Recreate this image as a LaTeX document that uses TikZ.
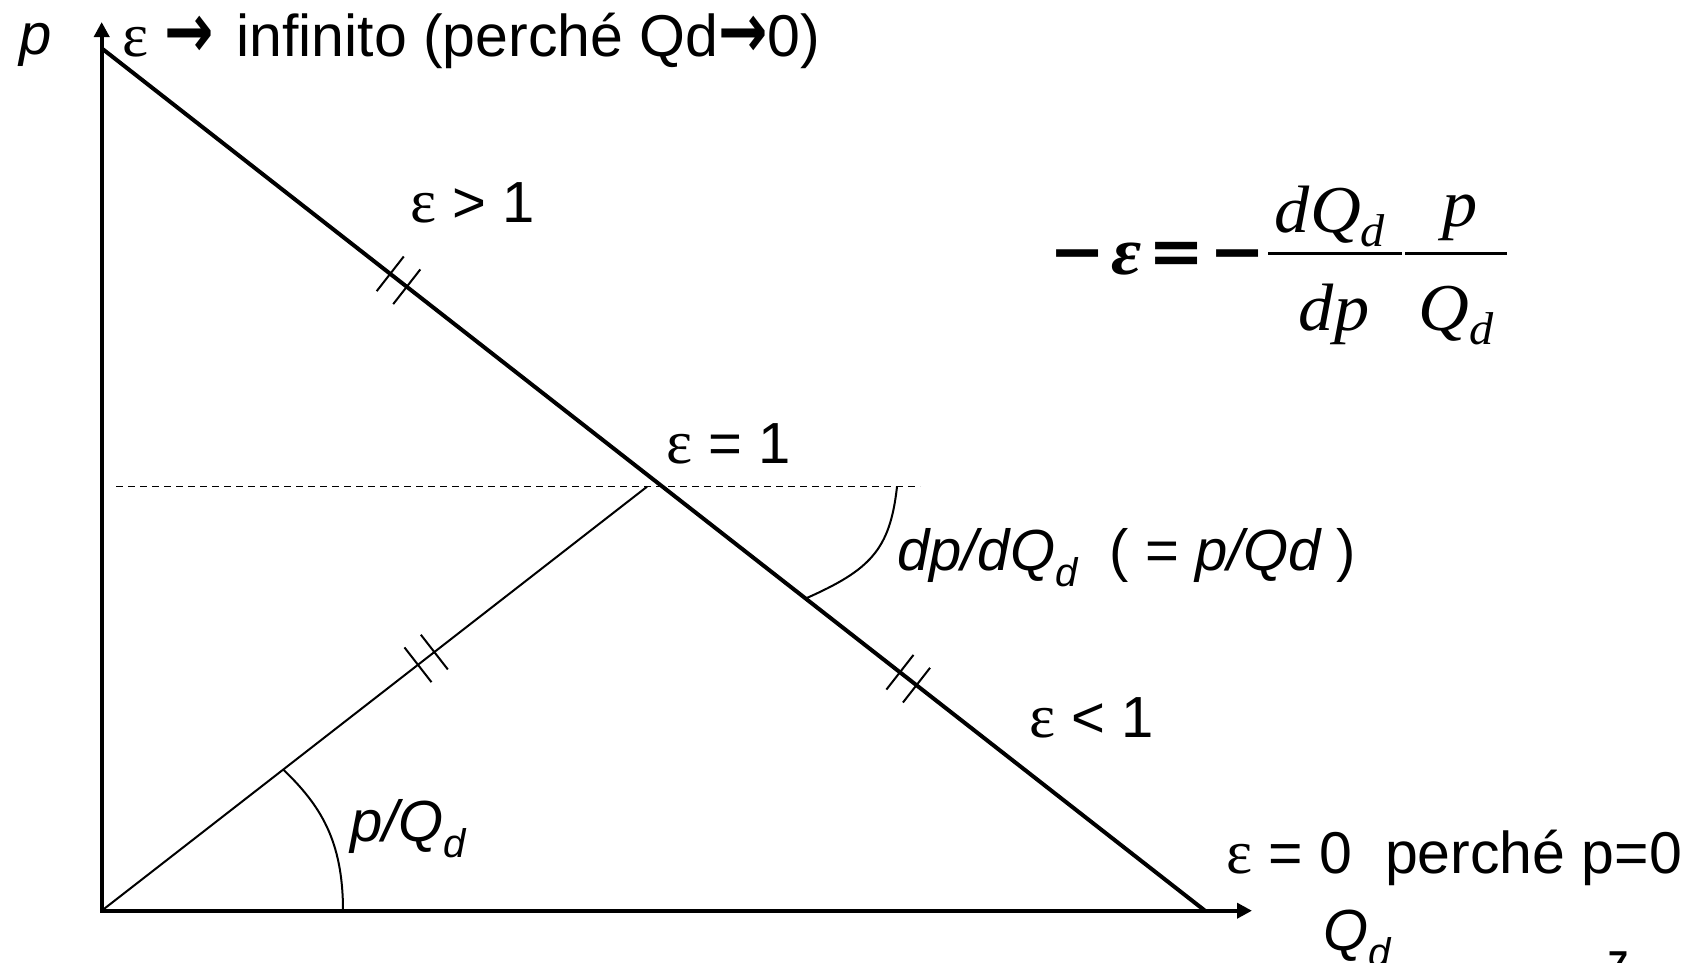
\documentclass[tikz,border=0pt]{standalone}
\usepackage{fontspec}
\usepackage{graphicx}
\setmainfont{Liberation Sans}
\newfontfamily\epsfont{Liberation Serif}
\newfontfamily\arrfont{DejaVu Sans}
\newfontfamily\opfont{DejaVu Serif}
\usetikzlibrary{arrows.meta,calc}
\newcommand\eps{{\epsfont\fontsize{62}{64}\selectfont ε}}
\newcommand\myarr{\raisebox{-1pt}{\scalebox{1.0}[1.3]{\arrfont\bfseries →}}}
\newcommand\mysub[1]{\raisebox{-0.28em}{\fontsize{40}{42}\selectfont #1}}
\newcommand\fsub[1]{\raisebox{-0.22em}{\fontsize{46}{48}\selectfont #1}}
\newcommand\fop[1]{{\opfont\bfseries #1}}
\newcommand\tickat[3]{\draw[tickline] ($(#1)!#3!(#2)!22pt!90:(#2)$) -- ($(#1)!#3!(#2)!22pt!-90:(#2)$);}
\tikzset{
  lab/.style={font=\fontsize{58}{60}\selectfont, inner sep=0pt, anchor=base west},
  fml/.style={font=\fontsize{67}{70}\selectfont\epsfont, inner sep=0pt, anchor=base},
  myaxis/.style={line width=4pt, {Triangle[length=15pt,width=15pt]}-{Triangle[length=15pt,width=15pt]}},
  demand/.style={line width=4pt},
  rayline/.style={line width=2pt},
  dashline/.style={line width=1.5pt, dash pattern=on 7pt off 5pt},
  tickline/.style={line width=2pt},
  arcline/.style={line width=2pt},
  fbar/.style={line width=2.5pt},
}
\begin{document}
\begin{tikzpicture}[x=1pt,y=-1pt]
\useasboundingbox (0,0) rectangle (1695,962);
\coordinate (O) at (101.7,910.7);
\coordinate (Ytop) at (101.7,22);
\coordinate (Xend) at (1252,910.7);
\coordinate (Dtop) at (101.7,48.3);
\coordinate (Dbot) at (1205,910.7);
\coordinate (DashL) at (116,486.7);
\coordinate (DashR) at (920,486.7);
\coordinate (Rend) at (647,486.7);
\coordinate (A1s) at (897,486.7);
\coordinate (A1e) at ($(Dtop)!0.638!(Dbot)$);
\coordinate (A2s) at ($(O)!0.333!(Rend)$);
\coordinate (A2e) at (343,910.7);

\draw[myaxis] (Ytop) -- (O) -- (Xend);
\draw[demand] (Dtop) -- (Dbot);
\draw[dashline] (DashL) -- (DashR);
\draw[rayline] (O) -- (Rend);

\tickat{Dtop}{Dbot}{0.2615}
\tickat{Dtop}{Dbot}{0.2765}
\tickat{Dtop}{Dbot}{0.7235}
\tickat{Dtop}{Dbot}{0.7385}
\tickat{O}{Rend}{0.580}
\tickat{O}{Rend}{0.610}

\draw[arcline] (A1s) .. controls (890,550) and (870,570) .. (A1e);
\draw[arcline] (A2s) .. controls (320,805) and (343,840) .. (A2e);

\node[lab] (plab) at (19,54) {\itshape p};
\node[lab, font=\fontsize{59}{62}\selectfont] (toplab) at (122,56) {\eps\ \myarr\hspace{6pt} infinito (perché Qd\myarr0)};
\node[lab] (egt) at (410,222) {\eps\ > 1};
\node[lab] (eeq) at (666,463) {\eps\ = 1};
\node[lab] (elt) at (1029,737) {\eps\ < 1};
\node[lab, font=\fontsize{59}{62}\selectfont] (ezero) at (1226,873) {\eps\ = 0\ \ perché p=0};
\node[lab] (slope) at (897,570) {\itshape dp/dQ\mysub{d}\upshape\ \ ( = \itshape p/Qd\upshape\ )};
\node[lab] (ray) at (350,841) {\itshape p/Q\mysub{d}};
\node[lab] (qd) at (1323,950) {\itshape Q\mysub{d}};
\node[font=\fontsize{36}{38}\selectfont\bfseries, inner sep=0pt, anchor=north west] (pg) at (1608,952) {7};

\node[fml, anchor=base west] (lhs) at (1049,274) {\fop{−}\hspace{6pt}\scalebox{1.1}[1]{\bfseries\itshape ε}\hspace{7pt}\fop{=}\hspace{5pt}\fop{−}};
\node[fml] (num1) at (1330,232) {\scalebox{1.05}[1]{\itshape dQ\fsub{d}}};
\node[fml] (den1) at (1334,330) {\scalebox{1.05}[1]{\itshape dp}};
\node[fml] (num2) at (1460,226) {\scalebox{1.05}[1]{\itshape p}};
\node[fml] (den2) at (1456,330) {\scalebox{1.05}[1]{\itshape Q\fsub{d}}};
\draw[fbar] (1268,253.5) -- (1402,253.5);
\draw[fbar] (1405,253.5) -- (1507,253.5);
\end{tikzpicture}
\end{document}
